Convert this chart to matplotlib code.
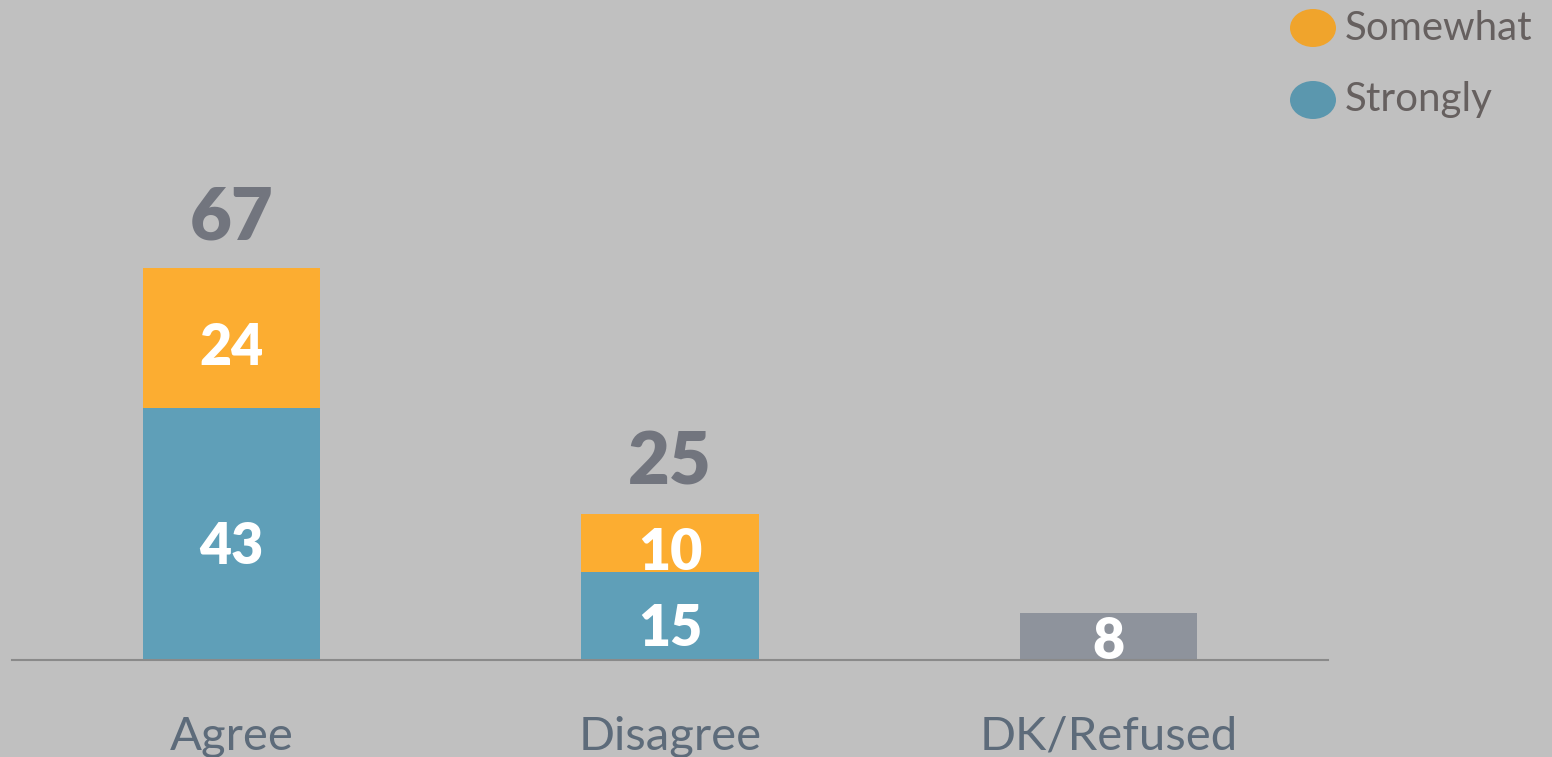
import matplotlib
matplotlib.use("Agg")
import matplotlib.pyplot as plt
from matplotlib.patches import Ellipse

# ---- data ----
categories = ["Agree", "Disagree", "DK/Refused"]
strongly = [43, 15, 0]
somewhat = [24, 10, 0]
dk_refused = [0, 0, 8]
totals = [67, 25, None]
legend_labels = ["Somewhat", "Strongly"]

# ---- style ----
bg = "#C0C0C0"
c_orange = "#FCAD31"
c_blue = "#5F9FB8"
c_gray = "#8E939C"
c_total = "#72757E"
c_cat = "#5D6B7A"
c_leg = "#66605F"
font = "Lato"

W, H = 1552, 757
fig = plt.figure(figsize=(W / 100, H / 100), dpi=100, facecolor=bg)
ax = fig.add_axes([12 / W, 97 / H, 1316 / W, 660 / H])
ax.set_facecolor(bg)
x = list(range(len(categories)))
bw = 0.404

ax.bar(x, strongly, width=bw, color=c_blue, edgecolor="none")
ax.bar(x, somewhat, width=bw, bottom=strongly, color=c_orange, edgecolor="none")
ax.bar(x, dk_refused, width=bw, color=c_gray, edgecolor="none")

ax.set_xlim(-0.5, 2.5)
ax.set_ylim(0, 660 / 5.85)
for s in ["top", "right", "left"]:
    ax.spines[s].set_visible(False)
ax.spines["bottom"].set_color("#8A8A8A")
ax.spines["bottom"].set_linewidth(1.5)
ax.set_yticks([])
ax.set_xticks(x)
ax.set_xticklabels(categories, fontsize=34, color=c_cat, family=font)
ax.tick_params(axis="x", length=0, pad=40)

lab_kw = dict(textcoords="offset points", ha="center", va="center", color="white",
              fontsize=40, fontweight="heavy", family=font)
for i in x:
    if strongly[i]:
        ax.annotate(str(strongly[i]), (i, strongly[i] / 2), xytext=(0, -9), **lab_kw)
    if somewhat[i]:
        ax.annotate(str(somewhat[i]), (i, strongly[i] + somewhat[i] / 2), xytext=(0, -7), **lab_kw)
    if dk_refused[i]:
        ax.annotate(str(dk_refused[i]), (i, dk_refused[i] / 2), xytext=(0, -4), **lab_kw)
    if totals[i] is not None:
        ax.annotate(str(totals[i]), (i, totals[i]), xytext=(0, 36), textcoords="offset points",
                    ha="center", va="center", color=c_total, fontsize=52, fontweight="heavy", family=font)

# legend (manual)
leg_colors = ["#F0A42C", "#5B97AE"]
leg_y = [28, 100]
for lab, col, yy in zip(legend_labels, leg_colors, leg_y):
    e = Ellipse((1313 / W, 1 - yy / H), 46 / W, 38 / H, transform=fig.transFigure,
                facecolor=col, edgecolor="none")
    fig.patches.append(e)
    fig.text(1345 / W, 1 - yy / H, lab, ha="left", va="center", fontsize=29, color=c_leg, family=font)

fig.savefig("out.png", dpi=100, facecolor=bg)
